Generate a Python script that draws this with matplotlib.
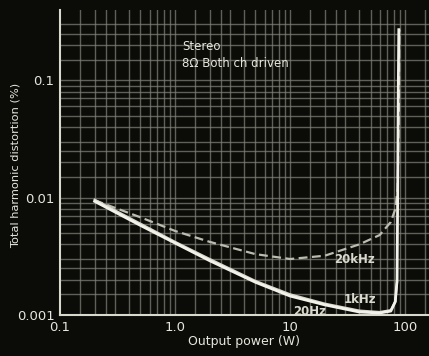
import numpy as np
import matplotlib
matplotlib.use("Agg")
import matplotlib.pyplot as plt

# Data (Output power W, THD %)
p_1k = [0.2, 0.5, 1.0, 2.0, 5.0, 10, 20, 40, 60, 75, 82, 85, 86, 87, 88]
thd_1k = [0.0093, 0.0058, 0.0041, 0.0029, 0.0019, 0.00145, 0.00122, 0.00106, 0.00104, 0.00108, 0.0013, 0.002, 0.01, 0.08, 0.27]
p_20 = [0.2, 0.5, 1.0, 2.0, 5.0, 10, 20, 40, 60, 75, 82, 85]
thd_20 = [0.0096, 0.006, 0.0042, 0.003, 0.00195, 0.0015, 0.00125, 0.00109, 0.00106, 0.0011, 0.0013, 0.0019]
p_20k = [0.2, 0.5, 1.0, 2.0, 5.0, 10, 20, 40, 60, 75, 82, 86, 88, 89]
thd_20k = [0.0095, 0.0068, 0.0052, 0.0042, 0.0033, 0.0030, 0.0032, 0.0040, 0.0048, 0.0062, 0.008, 0.012, 0.05, 0.27]

x_ticks = [0.1, 1, 10, 100]
x_labels = ["0.1", "1.0", "10", "100"]
y_ticks = [0.001, 0.01, 0.1]
y_labels = ["0.001", "0.01", "0.1"]

bg = "#0b0c08"
grid_c = "#84847a"
txt_c = "#e6e6dc"

fig = plt.figure(figsize=(4.29, 3.56), dpi=100, facecolor=bg)
ax = fig.add_axes([60/429, 1-315/356, 369/429, 305/356], facecolor=bg)
ax.set_xscale("log")
ax.set_yscale("log")
ax.set_xlim(0.1, 161)
ax.set_ylim(0.001, 0.397)

# dense grid
subs = [1, 1.5, 2, 2.5, 3, 4, 5, 6, 7, 8, 9]
for dec in [0.1, 1, 10, 100]:
    for s in subs:
        v = dec * s
        if 0.1 < v < 161:
            ax.axvline(v, color=grid_c, lw=1.0, alpha=0.7, zorder=1)
for dec in [0.001, 0.01, 0.1]:
    for s in subs:
        v = dec * s
        if 0.001 < v < 0.397:
            ax.axhline(v, color=grid_c, lw=1.0, alpha=0.7, zorder=1)

ax.plot(p_20k, thd_20k, color="#bcbcb0", lw=1.6, ls=(0, (4, 2)), zorder=3)
ax.plot(p_20, thd_20, color="#d8d8cc", lw=1.6, zorder=3)
ax.plot(p_1k, thd_1k, color="#f2f2ea", lw=2.0, zorder=4)

for sp in ["top", "right"]:
    ax.spines[sp].set_visible(False)
for sp in ["left", "bottom"]:
    ax.spines[sp].set_color("#d8d8cc")
    ax.spines[sp].set_linewidth(1.5)

ax.set_xticks(x_ticks)
ax.set_xticklabels(x_labels)
ax.set_yticks(y_ticks)
ax.set_yticklabels(y_labels)
ax.minorticks_off()
ax.tick_params(length=0, colors=txt_c, labelsize=9.5, pad=4)

ax.set_xlabel("Output power (W)", color=txt_c, fontsize=9, labelpad=1)
fig.text(16/429, 1-165/356, "Total harmonic distortion (%)", rotation=90,
         color=txt_c, fontsize=8.2, ha="center", va="center")

ax.text(0.33, 0.88, "Stereo", transform=ax.transAxes, color=txt_c, fontsize=8.5, va="center")
ax.text(0.33, 0.825, "8Ω Both ch driven", transform=ax.transAxes, color=txt_c, fontsize=8.5, va="center")
ax.text(24, 0.00295, "20kHz", color="#d8d8cc", fontsize=8.5, fontweight="bold", va="center")
ax.text(29, 0.00135, "1kHz", color="#d8d8cc", fontsize=8.5, fontweight="bold", va="center")
ax.text(10.6, 0.00108, "20Hz", color="#d8d8cc", fontsize=8.5, fontweight="bold", va="center")

fig.savefig("out.png", dpi=100, facecolor=bg)
